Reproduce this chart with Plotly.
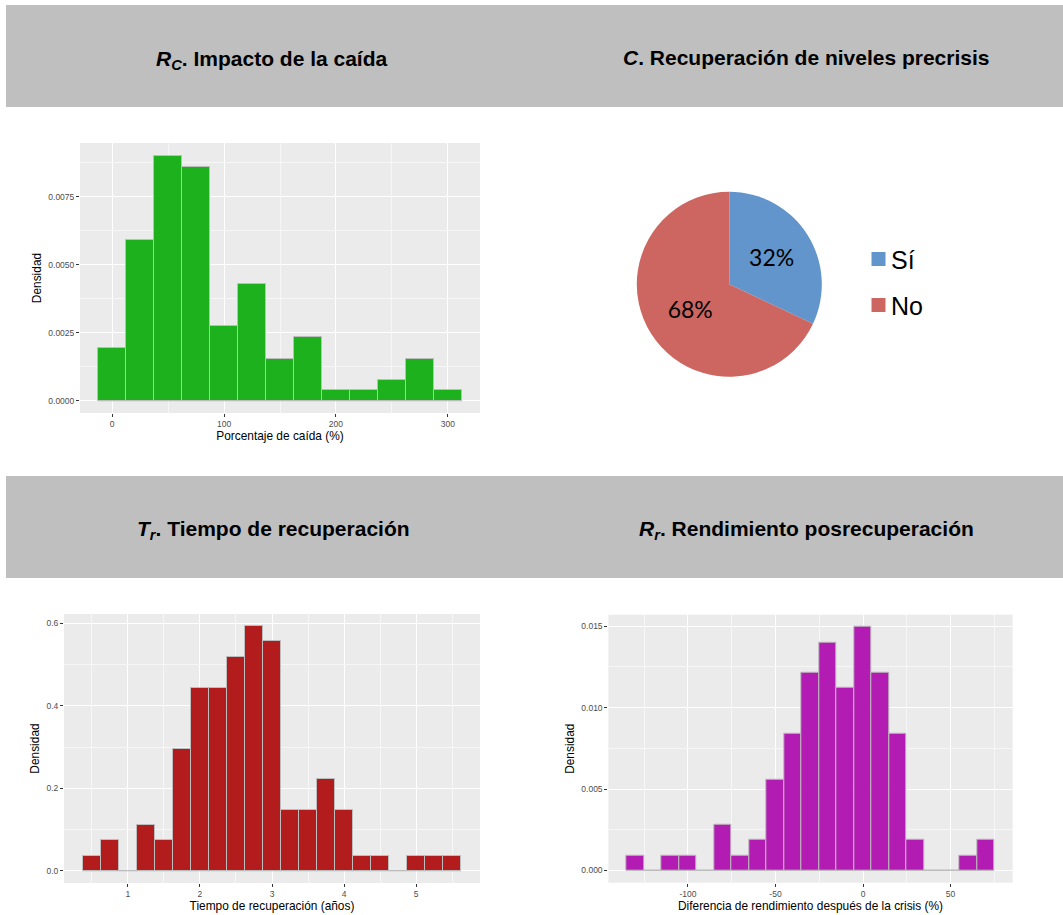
import plotly.graph_objects as go

# ---------------- DATA ----------------
# Rc: Impacto de la caída (histogram, density)
rc_centers = [0, 25, 50, 75, 100, 125, 150, 175, 200, 225, 250, 275, 300]
rc_density = [0.00195, 0.0059, 0.0090, 0.0086, 0.00275, 0.0043, 0.00155,
              0.00235, 0.00039, 0.00039, 0.00078, 0.00155, 0.00039]
rc_binwidth = 25

# C: Recuperación de niveles precrisis (pie)
pie_labels = ["Sí", "No"]
pie_values = [32, 68]

# Tr: Tiempo de recuperación (histogram, density)
tr_centers = [0.5, 0.75, 1.0, 1.25, 1.5, 1.75, 2.0, 2.25, 2.5, 2.75, 3.0,
              3.25, 3.5, 3.75, 4.0, 4.25, 4.5, 4.75, 5.0, 5.25, 5.5]
tr_density = [0.037, 0.074, 0.0, 0.111, 0.074, 0.296, 0.444, 0.444, 0.519,
              0.593, 0.556, 0.148, 0.148, 0.222, 0.148, 0.037, 0.037, 0.0,
              0.037, 0.037, 0.037]
tr_binwidth = 0.25

# Rr: Rendimiento posrecuperación (histogram, density)
rr_centers = [-130, -120, -110, -100, -90, -80, -70, -60, -50, -40, -30,
              -20, -10, 0, 10, 20, 30, 40, 50, 60, 70]
rr_density = [0.00093, 0.0, 0.00093, 0.00093, 0.0, 0.0028, 0.00093, 0.00187,
              0.0056, 0.0084, 0.01215, 0.0140, 0.0112, 0.01495, 0.01215,
              0.0084, 0.00187, 0.0, 0.0, 0.00093, 0.00187]
rr_binwidth = 10
rr_tickvals = [-100, -50, 0, 50]
rr_ticklabels = ["-100", "-50", "0", "50"]

titles = [
    "<b><i>R<sub>C</sub></i>. Impacto de la caída</b>",
    "<b><i>C</i>. Recuperación de niveles precrisis</b>",
    "<b><i>T<sub>r</sub></i>. Tiempo de recuperación</b>",
    "<b><i>R<sub>r</sub></i>. Rendimiento posrecuperación</b>",
]

# ---------------- LAYOUT HELPERS ----------------
W, H = 1063, 915
def fx(px):
    return px / W
def fy(py):
    return 1 - py / H

FONT = "Liberation Sans, Arial, sans-serif"
PANEL_BG = "#EBEBEB"
BAR_LINE = "#BDBDBD"

fig = go.Figure()

def add_hist(centers, dens, width, color, xa, ya):
    # baseline outline along zero (as drawn by ggplot's bar borders)
    fig.add_trace(go.Scatter(
        x=[centers[0] - width / 2, centers[-1] + width / 2], y=[0, 0],
        mode="lines", line=dict(color=BAR_LINE, width=1),
        xaxis=xa, yaxis=ya, showlegend=False, hoverinfo="skip"))
    fig.add_trace(go.Bar(
        x=centers, y=dens, width=width,
        marker=dict(color=color, line=dict(color=BAR_LINE, width=1)),
        xaxis=xa, yaxis=ya, showlegend=False))

add_hist(rc_centers, rc_density, rc_binwidth, "#1DB21D", "x", "y")
add_hist(tr_centers, tr_density, tr_binwidth, "#B21C1C", "x2", "y2")
add_hist(rr_centers, rr_density, rr_binwidth, "#B21CB2", "x3", "y3")

pie_colors = ["#6195CB", "#CD6660"]
fig.add_trace(go.Pie(
    labels=pie_labels, values=pie_values, sort=False, direction="clockwise",
    rotation=0, marker=dict(colors=pie_colors, line=dict(width=0)),
    textinfo="percent", textposition="inside",
    insidetextorientation="horizontal",
    textfont=dict(family="Lato, Open Sans, sans-serif", size=23, color="black"),
    domain=dict(x=[fx(636.8), fx(821.8)], y=[fy(376.8), fy(191.8)]),
    showlegend=False, hoverinfo="label+percent"))

tickfont = dict(family=FONT, size=8.5, color="#4D4D4D")
titlefont = dict(family=FONT, size=11.9, color="black")

def axis_common(**kw):
    d = dict(showgrid=True, gridcolor="white", gridwidth=1.1,
             zeroline=False, showline=False, ticks="outside", ticklen=3,
             tickcolor="#333333", tickwidth=1, tickfont=tickfont,
             minor=dict(showgrid=True, gridcolor="rgba(255,255,255,0.55)",
                        gridwidth=0.6, ticks=""),
             fixedrange=True)
    d.update(kw)
    return d

layout = dict(
    width=W, height=H, margin=dict(l=0, r=0, t=0, b=0),
    paper_bgcolor="white", plot_bgcolor=PANEL_BG, bargap=0,
    xaxis=axis_common(domain=[fx(80), fx(480)], range=[-28.75, 328.75],
                      dtick=100, tick0=0, minor_dtick=50, anchor="y",
                      title=dict(text="Porcentaje de caída (%)", font=titlefont, standoff=3)),
    yaxis=axis_common(domain=[fy(413), fy(143)], range=[-0.00045, 0.00947],
                      dtick=0.0025, tick0=0, minor_dtick=0.00125, tickformat=".4f",
                      anchor="x",
                      title=dict(text="Densidad", font=titlefont, standoff=4)),
    xaxis2=axis_common(domain=[fx(64), fx(480)], range=[0.1125, 5.8875],
                       dtick=1, tick0=0, minor_dtick=0.5, anchor="y2",
                       title=dict(text="Tiempo de recuperación (años)", font=titlefont, standoff=3)),
    yaxis2=axis_common(domain=[fy(883), fy(614)], range=[-0.0296, 0.6225],
                       dtick=0.2, tick0=0, minor_dtick=0.1, tickformat=".1f",
                       anchor="x2",
                       title=dict(text="Densidad", font=titlefont, standoff=4)),
    xaxis3=axis_common(domain=[fx(608.3), fx(1012.7)], range=[-145.5, 85.5],
                       tickmode="array", tickvals=rr_tickvals, ticktext=rr_ticklabels,
                       minor=dict(showgrid=True, gridcolor="rgba(255,255,255,0.55)",
                                  gridwidth=0.6, ticks="", dtick=25, tick0=0),
                       anchor="y3",
                       title=dict(text="Diferencia de rendimiento después de la crisis (%)",
                                  font=titlefont, standoff=3)),
    yaxis3=axis_common(domain=[fy(882.7), fy(614.7)], range=[-0.00075, 0.0157],
                       dtick=0.005, tick0=0, minor_dtick=0.0025, tickformat=".3f",
                       anchor="x3",
                       title=dict(text="Densidad", font=titlefont, standoff=4)),
)
fig.update_layout(**layout)

# Header bands
for y0, y1 in [(5, 107), (476, 578)]:
    fig.add_shape(type="rect", xref="paper", yref="paper",
                  x0=fx(6), x1=1, y0=fy(y1), y1=fy(y0),
                  fillcolor="#BFBFBF", line=dict(width=0), layer="below")

# Header titles
title_pos = [(272, 60), (806.5, 57), (273, 530), (806, 530)]
for t, (px, py) in zip(titles, title_pos):
    fig.add_annotation(text=t, xref="paper", yref="paper", x=fx(px), y=fy(py),
                       xanchor="center", yanchor="middle", showarrow=False,
                       font=dict(family=FONT, size=21, color="black"))

# Pie legend (manual)
leg_y = [259, 305]
for lab, col, py in zip(pie_labels, pie_colors, leg_y):
    fig.add_shape(type="rect", xref="paper", yref="paper",
                  x0=fx(871.5), x1=fx(885.5), y0=fy(py + 7), y1=fy(py - 7),
                  fillcolor=col, line=dict(width=0))
    fig.add_annotation(text=lab, xref="paper", yref="paper", x=fx(889), y=fy(py + 1),
                       xanchor="left", yanchor="middle", showarrow=False,
                       font=dict(family=FONT, size=25, color="black"))

fig.write_html("out.html", config={"displayModeBar": False},
               post_script="document.body.style.margin='0px';document.body.style.overflow='hidden';")
